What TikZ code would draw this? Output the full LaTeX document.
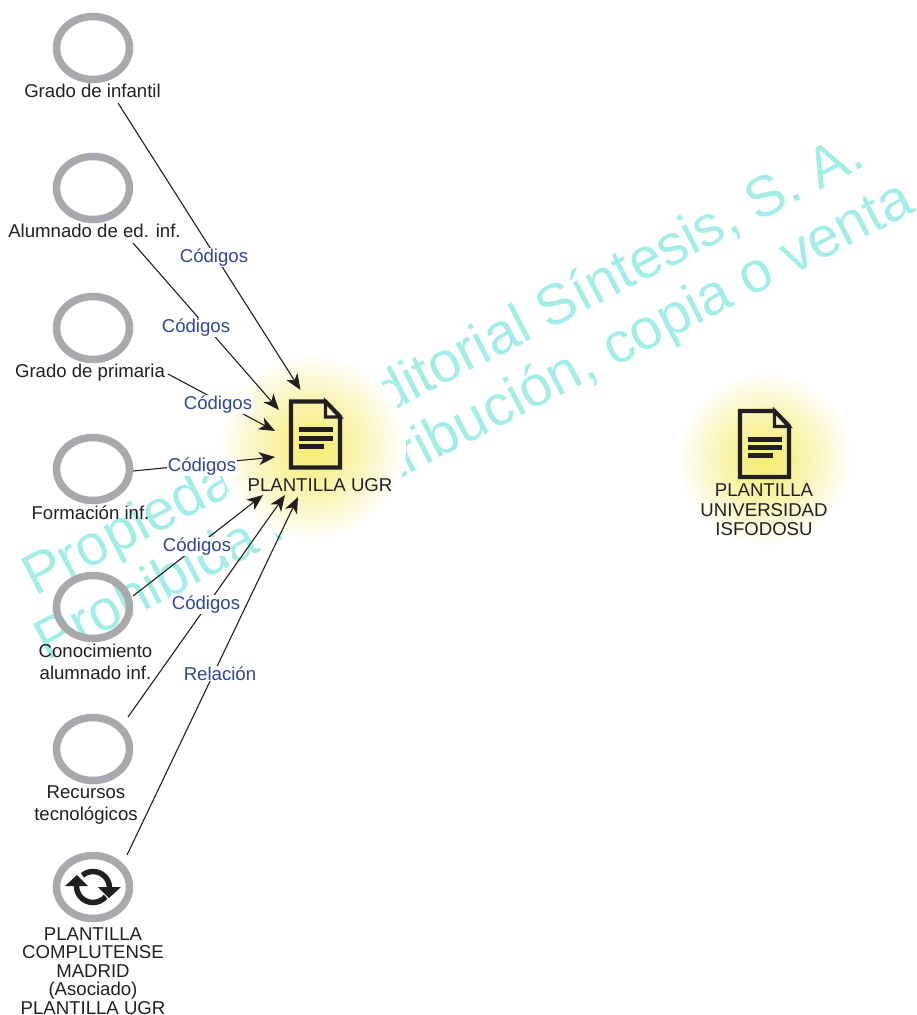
\documentclass[tikz,border=0pt]{standalone}
\usepackage{fontspec}
\setmainfont{Liberation Sans}
\usetikzlibrary{arrows.meta,shapes.geometric}
\definecolor{ink}{HTML}{231F20}
\definecolor{ringgray}{HTML}{A7A9AC}
\definecolor{labelblue}{HTML}{2E479C}
\definecolor{wm}{HTML}{A2EDE7}
\pgfdeclareradialshading{glowshade}{\pgfpoint{0bp}{0bp}}{rgb(0bp)=(0.96,0.93,0.43);rgb(7bp)=(0.97,0.94,0.58);rgb(14bp)=(0.98,0.96,0.73);rgb(20bp)=(0.99,0.98,0.88);rgb(25bp)=(1,1,1);rgb(50bp)=(1,1,1)}
\tikzset{
  ring/.style={draw=ringgray,line width=7.5pt,ellipse,minimum width=73pt,minimum height=63pt,inner sep=0pt},
  nodetext/.style={text=ink,font=\fontsize{18.6}{18.5}\selectfont,align=center,inner sep=0pt},
  nodetextwide/.style={nodetext,font=\fontsize{18.6}{22}\selectfont},
  edgelabel/.style={text=labelblue,font=\fontsize{18.6}{18}\selectfont,fill=white,inner sep=0.8pt},
  link/.style={draw=ink,line width=1.1pt,-{Stealth[length=16pt,width=13pt,inset=4.5pt]}},
  watermark/.style={text=wm,font=\fontsize{57.2}{57.2}\selectfont,rotate=27.4,inner sep=0pt},
  docbody/.style={draw=ink,line width=4.2pt,line join=miter},
  docbar/.style={fill=ink,draw=none},
}
\newcommand{\docicon}[2]{%
  \begin{scope}[shift={(#1,#2)}]
    \draw[docbody] (-24.5,-33) -- (10,-33) -- (24.5,-18) -- (24.5,33) -- (-24.5,33) -- cycle;
    \draw[docbody,fill=white,fill opacity=0.45,line width=3.4pt] (10,-33) -- (10,-17.5) -- (24.5,-17.5) -- cycle;
    \fill[docbar] (-17,-7.5) rectangle (17.5,-2.5);
    \fill[docbar] (-17,1) rectangle (17.5,6);
    \fill[docbar] (-17,9) rectangle (8.5,14);
  \end{scope}}
\begin{document}
\begin{tikzpicture}[x=1pt,y=-1pt]
\useasboundingbox (0,0) rectangle (916,1015);
% watermark
\node[watermark] (wmone) at (444.5,367.5) {Propiedad de Editorial Síntesis, S. A.};
\node[watermark] (wmtwo) at (475,423) {Prohibida la distribución, copia o venta};
% glows
\shade[shading=glowshade] (312,447) circle (94);
\shade[shading=glowshade] (765,459) circle (88);
% document icons
\docicon{315.5}{434.5}
\docicon{764.5}{444}
\node[nodetext] (docugr) at (320,485.5) {PLANTILLA UGR};
\node[nodetext,font=\fontsize{18.6}{19.5}\selectfont] (docisf) at (764,510) {PLANTILLA\\UNIVERSIDAD\\ISFODOSU};
% rings
\node[ring] (r1) at (93,48) {};
\node[ring] (r2) at (93,188) {};
\node[ring] (r3) at (93,328) {};
\node[ring] (r4) at (93,469) {};
\node[ring] (r5) at (93,607) {};
\node[ring] (r6) at (93,749) {};
\node[ring] (r7) at (93,887) {};
% refresh icon
\draw[ink,line width=5.5pt] (76.5,886) arc[start angle=180,end angle=320,radius=16.5pt];
\draw[ink,line width=5.5pt] (109.5,888) arc[start angle=0,end angle=130,radius=16.5pt];
\fill[ink] (65,886) -- (77,875) -- (88,886) -- cycle;
\fill[ink] (98,887) -- (121,887) -- (109,898) -- cycle;
% node texts
\node[nodetext] (t1) at (92.5,90.5) {Grado de infantil};
\node[nodetext] (t2) at (94.5,231) {Alumnado de ed. inf.};
\node[nodetext] (t3) at (90,373) {Grado de primaria};
\node[nodetext] (t4) at (90.5,513) {Formación inf.};
\node[nodetextwide] (t5) at (95.5,662) {Conocimiento\\alumnado inf.};
\node[nodetextwide] (t6) at (86,805) {Recursos\\tecnológicos};
\node[nodetext] (t7) at (93,971) {PLANTILLA\\COMPLUTENSE\\MADRID\\(Asociado)\\PLANTILLA UGR};
% connector ends
\coordinate (s1) at (118,103);
\coordinate (e1) at (300.5,390);
\coordinate (s2) at (133,243);
\coordinate (e2) at (279,410);
\coordinate (s3) at (168,374);
\coordinate (e3) at (275,431);
\coordinate (s4) at (133,471);
\coordinate (e4) at (275,457);
\coordinate (s5) at (133,596);
\coordinate (e5) at (263,495);
\coordinate (s6) at (128,717);
\coordinate (e6) at (285,495);
\coordinate (s7) at (127,855);
\coordinate (e7) at (298,497);
\draw[link] (s1) -- (e1);
\draw[link] (s2) -- (e2);
\draw[link] (s3) -- (e3);
\draw[link] (s4) -- (e4);
\draw[link] (s5) -- (e5);
\draw[link] (s6) -- (e6);
\draw[link] (s7) -- (e7);
% connector labels
\node[edgelabel] (l1) at (214,257.5) {Códigos};
\node[edgelabel] (l2) at (196,327.5) {Códigos};
\node[edgelabel] (l3) at (218,404.5) {Códigos};
\node[edgelabel] (l4) at (202,466.5) {Códigos};
\node[edgelabel] (l5) at (197,546.5) {Códigos};
\node[edgelabel] (l6) at (206,604.5) {Códigos};
\node[edgelabel] (l7) at (220,673.5) {Relación};
\end{tikzpicture}
\end{document}
